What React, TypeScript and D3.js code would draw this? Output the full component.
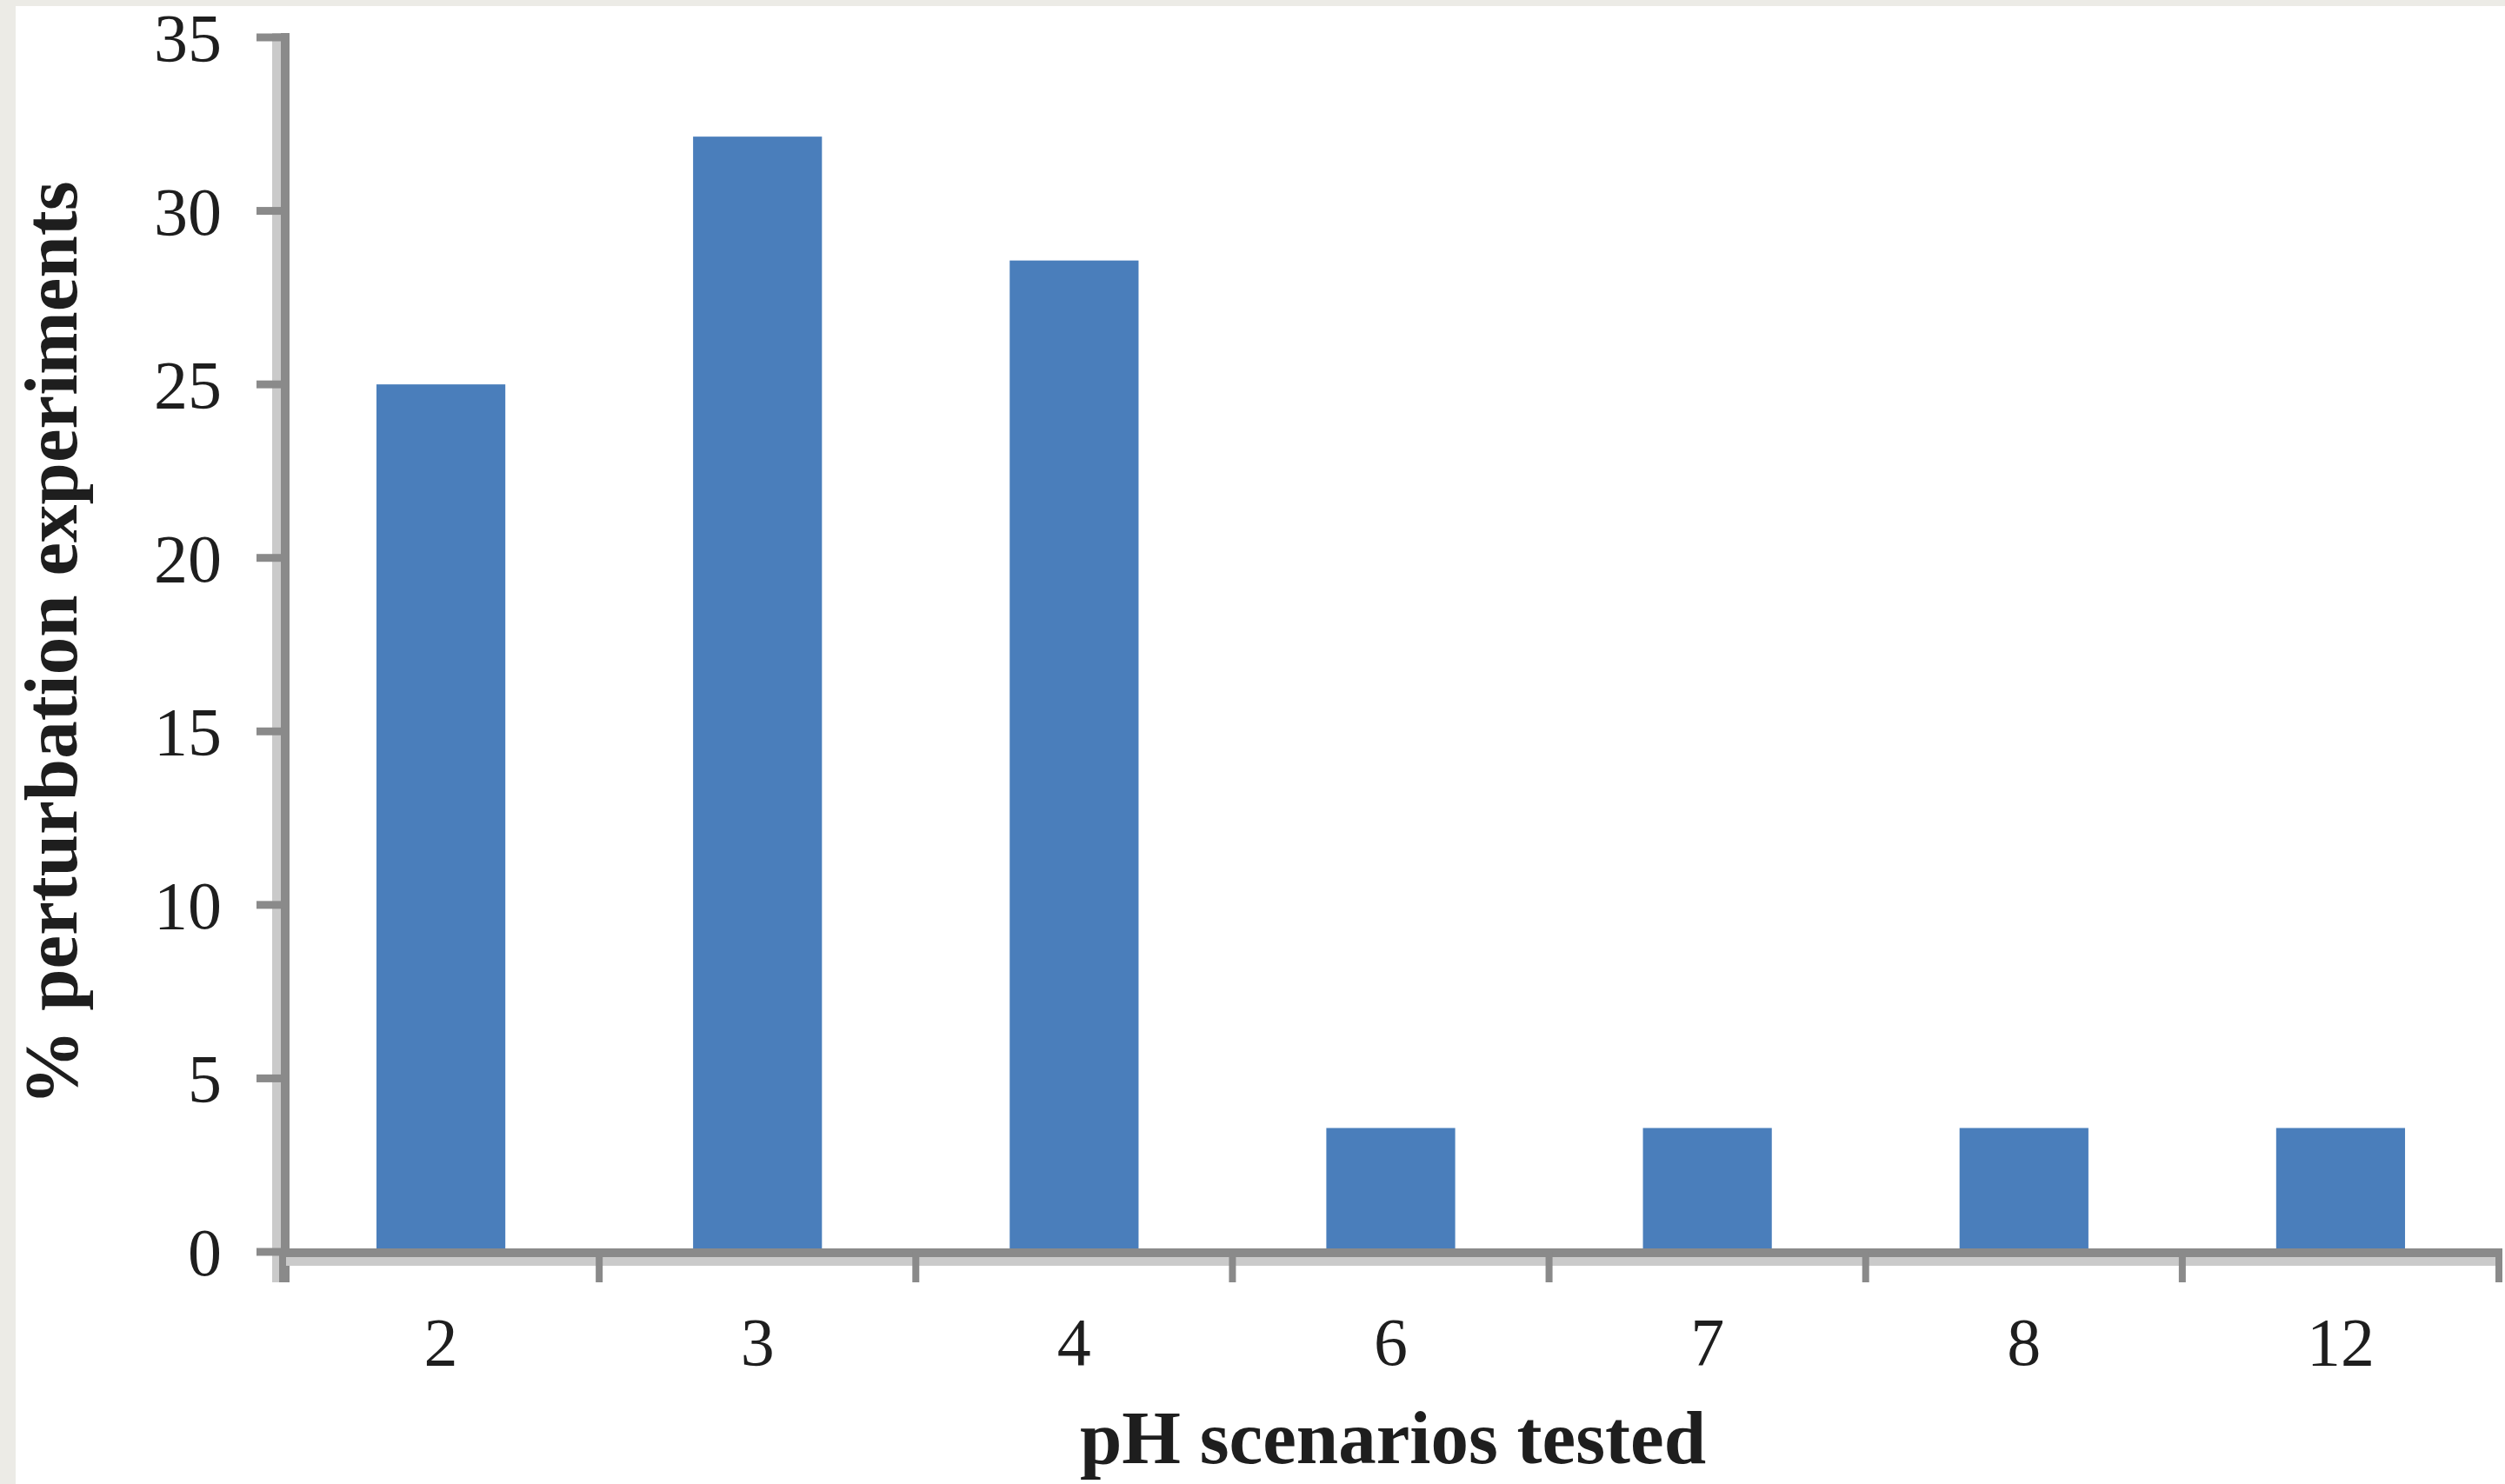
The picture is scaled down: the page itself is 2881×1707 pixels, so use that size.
import React from "react";
import * as d3 from "d3";

const categories = ["2", "3", "4", "6", "7", "8", "12"];
const values = [25, 32.14, 28.57, 3.57, 3.57, 3.57, 3.57];
const yTicks = [0, 5, 10, 15, 20, 25, 30, 35];
const xTitle = "pH scenarios tested";
const yTitle = "% perturbation experiments";

const W = 2881;
const H = 1707;
const left = 325;
const right = 2874;
const top = 43;
const bottom = 1440;
const font = "'Liberation Serif', 'Times New Roman', serif";

export default function App() {
  const x = d3.scaleBand<string>().domain(categories).range([left, right]).paddingInner(0.593).paddingOuter(0.2965);
  const y = d3.scaleLinear().domain([0, 35]).range([bottom, top]);
  const step = x.step();
  const boundaries = d3.range(categories.length + 1).map((i) => left + i * step);

  return (
    <svg
      width={W}
      height={H}
      viewBox={`0 0 ${W} ${H}`}
      style={{ position: "absolute", left: 0, top: 0, background: "#ffffff" }}
    >
      <rect x={0} y={0} width={W} height={H} fill="#ffffff" />
      <rect x={0} y={0} width={W} height={7} fill="#ECEBE6" />
      <rect x={0} y={0} width={18} height={H} fill="#ECEBE6" />

      {/* bars */}
      {categories.map((c, i) => (
        <rect
          key={c}
          x={x(c)!}
          y={y(values[i])}
          width={x.bandwidth()}
          height={bottom - y(values[i])}
          fill="#4a7ebb"
        />
      ))}

      {/* y axis */}
      <line x1={318} x2={318} y1={top - 5} y2={bottom + 35} stroke="#cacaca" strokeWidth={10} />
      <line x1={328} x2={328} y1={top - 5} y2={bottom + 35} stroke="#8a8a8a" strokeWidth={10} />
      {yTicks.map((t) => (
        <g key={t}>
          <line x1={295} x2={325} y1={y(t)} y2={y(t)} stroke="#8a8a8a" strokeWidth={9} />
          <text
            x={255}
            y={y(t) + 27}
            textAnchor="end"
            fontFamily={font}
            fontSize={78}
            fill="#1e1e1e"
          >
            {t}
          </text>
        </g>
      ))}

      {/* x axis */}
      <line x1={left} x2={right + 4} y1={1451} y2={1451} stroke="#cacaca" strokeWidth={10} />
      <line x1={left} x2={right + 4} y1={1441} y2={1441} stroke="#8a8a8a" strokeWidth={10} />
      {boundaries.map((b, i) => (
        <line key={i} x1={b} x2={b} y1={bottom} y2={1475} stroke="#8a8a8a" strokeWidth={8} />
      ))}
      {categories.map((c) => (
        <text
          key={c}
          x={x(c)! + x.bandwidth() / 2}
          y={1570}
          textAnchor="middle"
          fontFamily={font}
          fontSize={78}
          fill="#1e1e1e"
        >
          {c}
        </text>
      ))}

      {/* titles */}
      <text
        x={1602}
        y={1683}
        textAnchor="middle"
        fontFamily={font}
        fontSize={87}
        fontWeight="bold"
        fill="#1e1e1e"
      >
        {xTitle}
      </text>
      <text
        transform={`translate(88, 740) rotate(-90)`}
        textAnchor="middle"
        fontFamily={font}
        fontSize={87}
        fontWeight="bold"
        fill="#1e1e1e"
      >
        {yTitle}
      </text>
    </svg>
  );
}
